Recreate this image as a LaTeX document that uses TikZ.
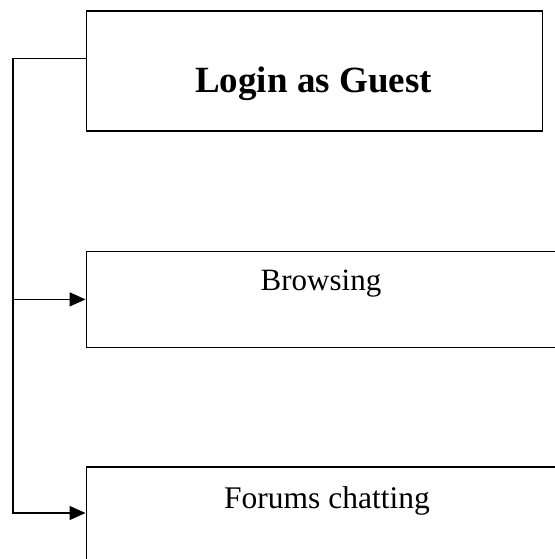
\documentclass[tikz,border=0pt]{standalone}
\usepackage{fontspec}
\setmainfont{Liberation Serif}
\usetikzlibrary{arrows.meta}
\begin{document}
\begin{tikzpicture}[x=1pt,y=-1pt,
  box/.style={draw, line width=1.6pt, rectangle, inner sep=0pt, anchor=north west},
  link/.style={line width=1.6pt},
  tip/.style={-{Triangle[length=16pt,width=14pt]}},
  label/.style={anchor=base, inner sep=0pt}]
\useasboundingbox (0,0) rectangle (554,559);

% boxes
\node[box, minimum width=456pt, minimum height=119.5pt] (guest) at (85.5,10.5) {};
\node[box, minimum width=471pt, minimum height=96.2pt] (browse) at (85.5,250.5) {};
\node[box, minimum width=490pt, minimum height=120pt] (forum) at (85.5,466) {};

% texts
\node[label, font=\bfseries\fontsize{37}{40}\selectfont] (guesttext) at (313.5,92.3) {Login as Guest};
\node[label, font=\fontsize{31}{36}\selectfont] (browsetext) at (321,290) {Browsing};
\node[label, font=\fontsize{31.5}{36}\selectfont] (forumtext) at (327,508) {Forums chatting};

% connectors
\coordinate (rail) at (13,0);
\draw[link, tip] ([yshift=-48pt]guest.north west) -| (rail |- forum.north west)
  |- ([yshift=-47pt]forum.north west);
\draw[link, tip] (rail |- browse.west) -- (browse.west);
\end{tikzpicture}
\end{document}
